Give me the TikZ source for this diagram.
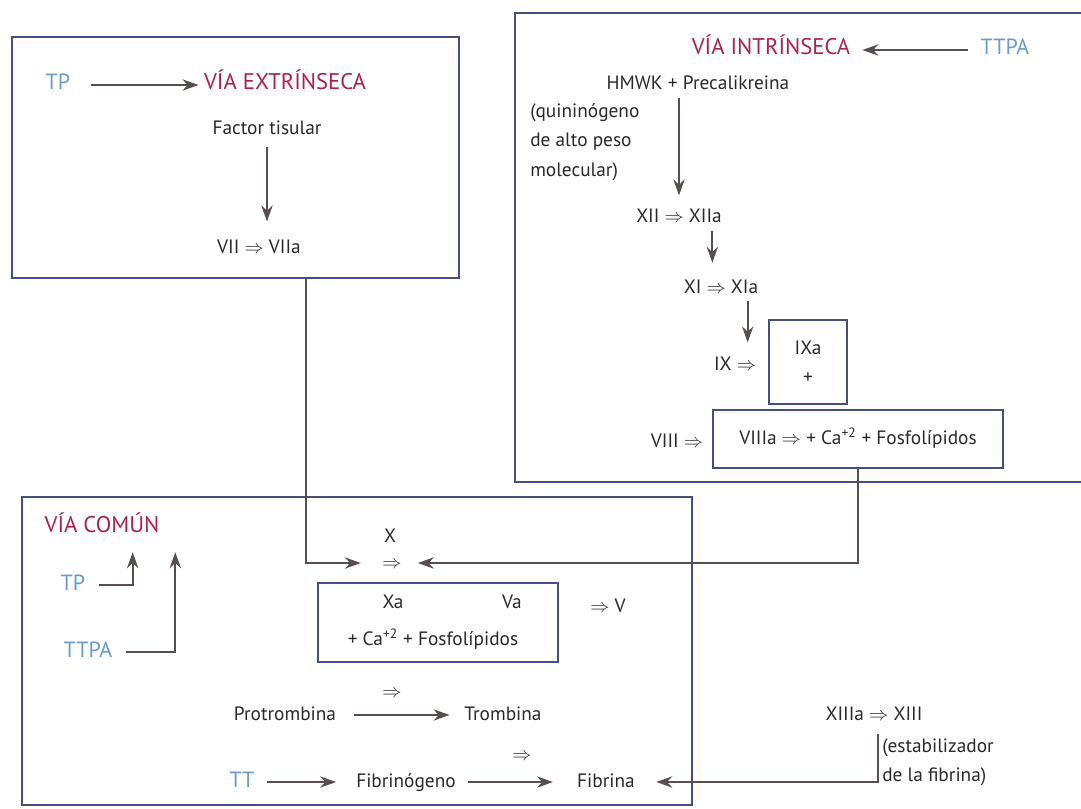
\documentclass[tikz,border=0pt]{standalone}
\usepackage{fontspec}
\setmainfont{PT Sans}
\usetikzlibrary{arrows.meta}

\definecolor{viaroja}{RGB}{172,32,78}
\definecolor{pruebaazul}{RGB}{105,155,205}
\definecolor{bordecaja}{RGB}{68,80,130}
\definecolor{texto}{RGB}{45,40,40}
\definecolor{flechagris}{RGB}{88,78,78}

\tikzset{
  etiqueta/.style={font=\fontsize{14.5}{22}\selectfont, text=texto, inner sep=3pt, text height=10.5pt, text depth=3pt},
  nota/.style={font=\fontsize{14.5}{22}\selectfont, text=texto, inner sep=3pt},
  titulo/.style={etiqueta, font=\fontsize{17}{22}\selectfont, text=viaroja},
  prueba/.style={etiqueta, font=\fontsize{16.5}{22}\selectfont, text=pruebaazul},
  caja/.style={draw=bordecaja, line width=1.2pt},
  cajita/.style={draw=bordecaja, line width=0.9pt},
  flecha/.style={draw=flechagris, line width=1.3pt, -{Stealth[length=12pt,width=8.5pt,inset=4pt]}},
  conector/.style={flecha, line width=1pt}
}

\begin{document}
\begin{tikzpicture}[x=0.75pt,y=-0.75pt]
\useasboundingbox (0,0) rectangle (1081,809);

\draw[caja] (12,37) rectangle (459,278);
\node[prueba] (tpext) at (58,85) {TP};
\node[titulo] (extrinseca) at (285,85) {VÍA EXTRÍNSECA};
\node[etiqueta] (tisular) at (267,130) {Factor tisular};
\node[etiqueta] (vii) at (259,248) {VII $\Rightarrow$ VIIa};
\draw[flecha, shorten <=12pt, shorten >=1pt] (tpext) -- (extrinseca);
\draw[flecha, shorten <=3pt, shorten >=10pt] (tisular.south) -- (tisular.south |- vii.north);
\coordinate (salidaext) at (306,278);

\draw[caja] (1081,13) -- (515,13) -- (515,482) -- (1081,482);
\node[prueba] (ttpaint) at (1005,50) {TTPA};
\node[titulo] (intrinseca) at (771,50) {VÍA INTRÍNSECA};
\node[etiqueta] (hmwk) at (698,85) {HMWK + Precalikreina};
\node[nota, anchor=west, align=left] (quinina) at (526,142) {(quininógeno\\de alto peso\\molecular)};
\node[etiqueta] (xii) at (679,218) {XII $\Rightarrow$ XIIa};
\node[etiqueta] (xi) at (721,288) {XI $\Rightarrow$ XIa};
\node[etiqueta] (ix) at (735,365) {IX $\Rightarrow$};
\node[nota, cajita, align=center, minimum width=58.5pt, minimum height=63pt] (ixa) at (808,362) {IXa\\+};
\node[etiqueta] (viii) at (677,442) {VIII $\Rightarrow$};
\node[etiqueta, cajita, minimum width=217.5pt, minimum height=43.5pt] (viiia) at (858,439) {VIIIa $\Rightarrow$ + Ca\textsuperscript{+2} + Fosfolípidos};
\coordinate (xiisal) at ([xshift=25pt]xii.south);
\coordinate (xisal) at ([xshift=20pt]xi.south);
\draw[flecha, shorten <=6pt, shorten >=6pt] (ttpaint) -- (intrinseca);
\draw[flecha, shorten >=7pt] (hmwk.south -| xii.north) -- (xii.north);
\draw[flecha, shorten >=9pt] (xiisal) -- (xiisal |- xi.north);
\draw[flecha, shorten >=7pt] (xisal) -- (xisal |- ix.north);

\draw[caja] (22,497) rectangle (692,805);
\node[titulo] (comun) at (102,527) {VÍA COMÚN};
\node[prueba] (tpcom) at (73,585) {TP};
\node[prueba] (ttpacom) at (88,652) {TTPA};
\draw[flecha, shorten <=7pt, shorten >=9pt] (tpcom.east) -| ([xshift=23pt]comun.south);
\draw[flecha, shorten <=7pt, shorten >=9pt] (ttpacom.east) -| ([xshift=55pt]comun.south);

\node[etiqueta] (factorx) at (390,537) {X};
\node[etiqueta] (convx) at (392,563) {$\Rightarrow$};
\draw[conector, shorten >=13pt] (salidaext) |- (convx.west);
\draw[conector, shorten >=9pt] (viiia.south) |- (convx.east);

\draw[cajita] (318,583) rectangle (558,662);
\node[etiqueta] (xa) at (393,603) {Xa};
\node[etiqueta] (va) at (512,603) {Va};
\node[etiqueta] (calcio) at (433,640) {+ Ca\textsuperscript{+2} + Fosfolípidos};
\node[etiqueta] (convv) at (608,607) {$\Rightarrow$ V};

\node[etiqueta] (convpro) at (392,692) {$\Rightarrow$};
\node[etiqueta] (protrombina) at (285,715) {Protrombina};
\node[etiqueta] (trombina) at (503,715) {Trombina};
\draw[flecha, shorten <=10pt, shorten >=8pt] (protrombina) -- (trombina);

\node[etiqueta] (convfib) at (522,755) {$\Rightarrow$};
\node[prueba] (tt) at (242,782) {TT};
\node[etiqueta] (fibrinogeno) at (406,782) {Fibrinógeno};
\node[etiqueta] (fibrina) at (606,782) {Fibrina};
\draw[flecha, shorten <=6pt, shorten >=12pt] (tt) -- (fibrinogeno);
\draw[flecha, shorten <=6pt, shorten >=15pt] (fibrinogeno) -- (fibrina);

\node[etiqueta] (xiiia) at (874,715) {XIIIa $\Rightarrow$ XIII};
\node[nota, anchor=west, align=left] (estabiliza) at (878,762) {(estabilizador\\de la fibrina)};
\draw[conector, shorten >=13pt] (estabiliza.north west) |- (fibrina.east);
\end{tikzpicture}
\end{document}
